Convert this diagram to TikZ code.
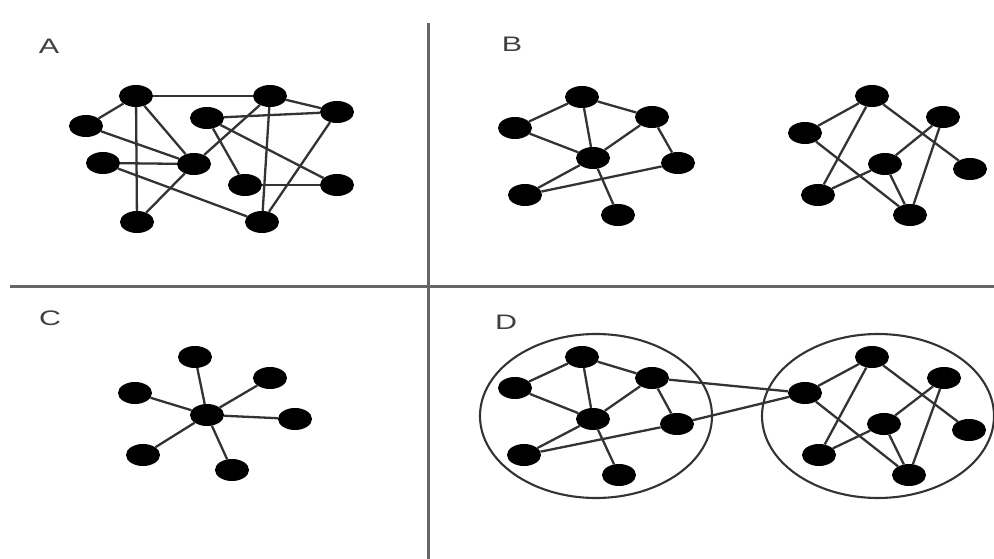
\documentclass[tikz,border=0pt]{standalone}
\usepackage{fontspec}
\usepackage{graphicx}
\setmainfont{Liberation Sans}
\usetikzlibrary{shapes.geometric}
\begin{document}
\begin{tikzpicture}[x=1pt,y=-1pt,
  dot/.style={ellipse, fill=black, minimum width=34pt, minimum height=22pt, inner sep=0pt},
  link/.style={draw=black!80, line width=2.3pt},
  divider/.style={draw=black!60, line width=3pt},
  panel/.style={font=\fontsize{21}{21}\selectfont, text=black!75, inner sep=0pt},
  group/.style={ellipse, draw=black!80, line width=2.1pt, minimum width=232pt, minimum height=164pt, inner sep=0pt}]
\useasboundingbox (0,0) rectangle (994,559);
\fill[white] (0,0) rectangle (994,559);

% dividers
\coordinate (vt) at (428.5,23);
\coordinate (vb) at (428.5,559);
\coordinate (hl) at (10,286.5);
\coordinate (hr) at (994,286.5);
\draw[divider] (vt) -- (vb);
\draw[divider] (hl) -- (hr);

% panel labels
\node[panel] (labA) at (49,46) {\scalebox{1.45}[1]{A}};
\node[panel] (labB) at (512,44) {\scalebox{1.45}[1]{B}};
\node[panel] (labC) at (50,318) {\scalebox{1.45}[1]{C}};
\node[panel] (labD) at (506,322) {\scalebox{1.45}[1]{D}};

% ---------- Panel A ----------
\node[dot] (a1) at (136,96) {};
\node[dot] (a2) at (86,126) {};
\node[dot] (a3) at (103,163) {};
\node[dot] (a4) at (207,118) {};
\node[dot] (a5) at (194,164) {};
\node[dot] (a6) at (270,96) {};
\node[dot] (a7) at (337,112) {};
\node[dot] (a8) at (245,185) {};
\node[dot] (a9) at (337,185) {};
\node[dot] (a10) at (137,222) {};
\node[dot] (a11) at (262,222) {};
\draw[link] (a1) -- (a6);
\draw[link] (a1) -- (a2);
\draw[link] (a1) -- (a10);
\draw[link] (a1) -- (a5);
\draw[link] (a2) -- (a5);
\draw[link] (a3) -- (a5);
\draw[link] (a3) -- (a11);
\draw[link] (a5) -- (a10);
\draw[link] (a5) -- (a6);
\draw[link] (a4) -- (a7);
\draw[link] (a4) -- (a8);
\draw[link] (a4) -- (a9);
\draw[link] (a6) -- (a7);
\draw[link] (a6) -- (a11);
\draw[link] (a7) -- (a11);
\draw[link] (a8) -- (a9);

% ---------- Panel B ----------
\node[dot] (b1) at (582,97) {};
\node[dot] (b2) at (515,128) {};
\node[dot] (b3) at (652,117) {};
\node[dot] (b4) at (593,158) {};
\node[dot] (b5) at (678,163) {};
\node[dot] (b6) at (525,195) {};
\node[dot] (b7) at (618,215) {};
\draw[link] (b2) -- (b1);
\draw[link] (b1) -- (b3);
\draw[link] (b1) -- (b4);
\draw[link] (b2) -- (b4);
\draw[link] (b3) -- (b4);
\draw[link] (b3) -- (b5);
\draw[link] (b4) -- (b6);
\draw[link] (b4) -- (b7);
\draw[link] (b6) -- (b5);

\node[dot] (c1) at (872,96) {};
\node[dot] (c2) at (805,133) {};
\node[dot] (c3) at (943,117) {};
\node[dot] (c4) at (885,164) {};
\node[dot] (c5) at (970,169) {};
\node[dot] (c6) at (818,195) {};
\node[dot] (c7) at (910,215) {};
\draw[link] (c2) -- (c1);
\draw[link] (c1) -- (c6);
\draw[link] (c1) -- (c5);
\draw[link] (c2) -- (c7);
\draw[link] (c6) -- (c4);
\draw[link] (c4) -- (c3);
\draw[link] (c4) -- (c7);
\draw[link] (c3) -- (c7);

% ---------- Panel C ----------
\node[dot] (s0) at (207,415) {};
\node[dot] (s1) at (195,357) {};
\node[dot] (s2) at (270,378) {};
\node[dot] (s3) at (295,419) {};
\node[dot] (s4) at (135,393) {};
\node[dot] (s5) at (143,455) {};
\node[dot] (s6) at (232,470) {};
\foreach \k in {1,...,6} \draw[link] (s0) -- (s\k);

% ---------- Panel D ----------
\node[group] (gl) at (596,416) {};
\node[group] (gr) at (878,416) {};

\node[dot] (d1) at (582,357) {};
\node[dot] (d2) at (515,388) {};
\node[dot] (d3) at (652,378) {};
\node[dot] (d4) at (593,419) {};
\node[dot] (d5) at (677,424) {};
\node[dot] (d6) at (524,455) {};
\node[dot] (d7) at (619,475) {};
\draw[link] (d2) -- (d1);
\draw[link] (d1) -- (d3);
\draw[link] (d1) -- (d4);
\draw[link] (d2) -- (d4);
\draw[link] (d3) -- (d4);
\draw[link] (d3) -- (d5);
\draw[link] (d4) -- (d6);
\draw[link] (d4) -- (d7);
\draw[link] (d6) -- (d5);

\node[dot] (e1) at (872,357) {};
\node[dot] (e2) at (805,393) {};
\node[dot] (e3) at (944,378) {};
\node[dot] (e4) at (884,424) {};
\node[dot] (e5) at (969,430) {};
\node[dot] (e6) at (819,455) {};
\node[dot] (e7) at (909,475) {};
\draw[link] (e2) -- (e1);
\draw[link] (e1) -- (e6);
\draw[link] (e1) -- (e5);
\draw[link] (e2) -- (e7);
\draw[link] (e6) -- (e4);
\draw[link] (e4) -- (e3);
\draw[link] (e4) -- (e7);
\draw[link] (e3) -- (e7);

\draw[link] (d3) -- (e2);
\draw[link] (d5) -- (e2);
\end{tikzpicture}
\end{document}
